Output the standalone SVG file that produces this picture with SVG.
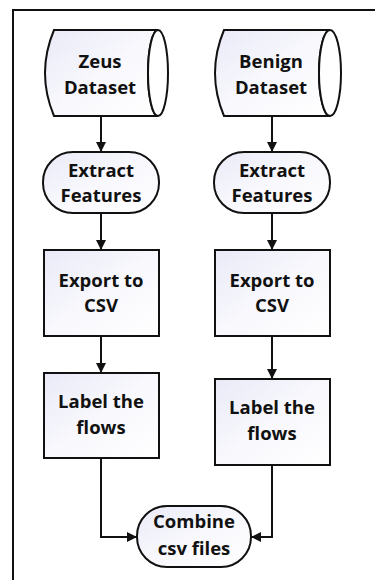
<svg xmlns="http://www.w3.org/2000/svg" width="375" height="580" viewBox="0 0 375 580">
  <defs>
    <linearGradient id="fill" x1="0" y1="0" x2="1" y2="1">
      <stop offset="0" stop-color="#e9eaf7"/>
      <stop offset="0.5" stop-color="#f8f8fd"/>
      <stop offset="1" stop-color="#ffffff"/>
    </linearGradient>
    <marker id="arrow" viewBox="0 0 10 10" refX="10" refY="5" markerWidth="10" markerHeight="10" markerUnits="userSpaceOnUse" orient="auto">
      <path d="M0,0 L10,5 L0,10 Z" fill="#111"/>
    </marker>
    <style>
      .shape { fill: url(#fill); stroke: #111; stroke-width: 2; }
      .end { fill: #fff; stroke: #111; stroke-width: 2; }
      .edge { fill: none; stroke: #111; stroke-width: 2; }
      .lbl { font-family: "Open Sans", "Liberation Sans", sans-serif; font-weight: bold; font-size: 18.5px; fill: #111; text-anchor: middle; }
    </style>
  </defs>
  <rect width="375" height="580" fill="#fff"/>

  <!-- outer frame: only top and left edges fall inside the canvas -->
  <path d="M13,580 V10 H375" fill="none" stroke="#111" stroke-width="2"/>

  <!-- connectors -->
  <g id="connectors">
    <path class="edge" d="M101,116 V152" marker-end="url(#arrow)"/>
    <path class="edge" d="M272,116 V152" marker-end="url(#arrow)"/>
    <path class="edge" d="M101,213 V250" marker-end="url(#arrow)"/>
    <path class="edge" d="M272,213 V250" marker-end="url(#arrow)"/>
    <path class="edge" d="M101,336 V373" marker-end="url(#arrow)"/>
    <path class="edge" d="M272,336 V379" marker-end="url(#arrow)"/>
    <path class="edge" d="M101,458 V537 H137" marker-end="url(#arrow)"/>
    <path class="edge" d="M272,465 V537 H251" marker-end="url(#arrow)"/>
  </g>

  <!-- stored data: Zeus -->
  <g id="zeus-dataset">
    <path class="shape" d="M54,30 H158 A10,43 0 0 0 158,116 H54 Q36,73 54,30 Z"/>
    <path class="end" d="M158,30 A10,43 0 0 1 158,116 A10,43 0 0 1 158,30 Z"/>
    <text class="lbl" x="100" y="68">Zeus</text>
    <text class="lbl" x="100" y="94">Dataset</text>
  </g>

  <!-- stored data: Benign -->
  <g id="benign-dataset">
    <path class="shape" d="M224,30 H330 A11,43 0 0 0 330,116 H224 Q206,73 224,30 Z"/>
    <path class="end" d="M330,30 A11,43 0 0 1 330,116 A11,43 0 0 1 330,30 Z"/>
    <text class="lbl" x="271" y="68">Benign</text>
    <text class="lbl" x="271" y="94">Dataset</text>
  </g>

  <g id="zeus-extract">
    <rect class="shape" x="43" y="152" width="116" height="61" rx="30" ry="30"/>
    <text class="lbl" x="101" y="177">Extract</text>
    <text class="lbl" x="101" y="202">Features</text>
  </g>

  <g id="benign-extract">
    <rect class="shape" x="214" y="152" width="116" height="61" rx="30" ry="30"/>
    <text class="lbl" x="272" y="177">Extract</text>
    <text class="lbl" x="272" y="202">Features</text>
  </g>

  <g id="zeus-export">
    <rect class="shape" x="44" y="250" width="115" height="86"/>
    <text class="lbl" x="101" y="287">Export to</text>
    <text class="lbl" x="101" y="312">CSV</text>
  </g>

  <g id="benign-export">
    <rect class="shape" x="215" y="250" width="115" height="86"/>
    <text class="lbl" x="272" y="287">Export to</text>
    <text class="lbl" x="272" y="312">CSV</text>
  </g>

  <g id="zeus-label">
    <rect class="shape" x="44" y="373" width="115" height="85"/>
    <text class="lbl" x="101" y="408">Label the</text>
    <text class="lbl" x="101" y="434">flows</text>
  </g>

  <g id="benign-label">
    <rect class="shape" x="215" y="379" width="115" height="86"/>
    <text class="lbl" x="272" y="414">Label the</text>
    <text class="lbl" x="272" y="440">flows</text>
  </g>

  <g id="combine">
    <rect class="shape" x="137" y="506" width="114" height="61" rx="30" ry="30"/>
    <text class="lbl" x="194" y="528">Combine</text>
    <text class="lbl" x="194" y="555">csv files</text>
  </g>
</svg>
